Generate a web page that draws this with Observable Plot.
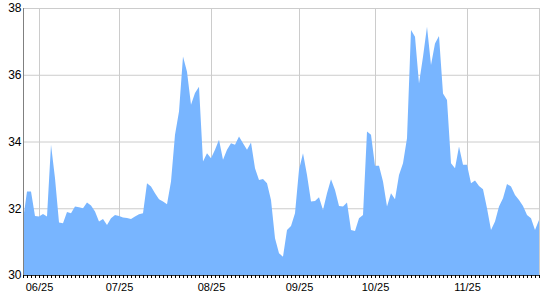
<!DOCTYPE html>
<html>
<head>
<meta charset="utf-8">
<script src="https://cdn.jsdelivr.net/npm/d3@7"></script>
<script src="https://cdn.jsdelivr.net/npm/@observablehq/plot@0.6"></script>
<style>
  html, body { margin: 0; padding: 0; background: #fff; }
  #chart { width: 540px; height: 300px; }
</style>
</head>
<body>
<div id="chart"></div>
<script>
// Daily closing values (one per trading day)
const values = [
  31.65, 32.5, 32.5, 31.77, 31.75, 31.83, 31.75, 33.9, 32.9, 31.57,
  31.55, 31.89, 31.85, 32.05, 32.03, 32.0, 32.17, 32.08, 31.9, 31.6,
  31.68, 31.5, 31.7, 31.8, 31.77, 31.72, 31.71, 31.68, 31.75, 31.82,
  31.85, 32.75, 32.65, 32.45, 32.27, 32.2, 32.12, 32.8, 34.2, 34.9,
  36.55, 36.09, 35.1, 35.45, 35.64, 33.4, 33.65, 33.5, 33.75, 34.05,
  33.45, 33.75, 33.95, 33.9, 34.15, 33.95, 33.75, 33.97, 33.2, 32.85,
  32.88, 32.75, 32.25, 31.1, 30.65, 30.55, 31.35, 31.47, 31.85, 33.15,
  33.65, 33.0, 32.2, 32.22, 32.33, 31.95, 32.45, 32.87, 32.55, 32.07,
  32.05, 32.17, 31.35, 31.32, 31.7, 31.8, 34.3, 34.2, 33.27, 33.27,
  32.8, 32.05, 32.45, 32.27, 33.0, 33.35, 34.1, 37.34, 37.14, 35.74,
  36.54, 37.44, 36.29, 36.94, 37.16, 35.44, 35.24, 33.35, 33.2, 33.85,
  33.3, 33.3, 32.75, 32.83, 32.67, 32.57, 32.0, 31.35, 31.6, 32.05,
  32.3, 32.73, 32.65, 32.4, 32.25, 32.07, 31.8, 31.7, 31.35, 31.65
];
// Labelled x positions (trading-day index) and their labels
const tickIdx = [4, 24, 47, 69, 88, 111];
const tickLabels = ["06/25", "07/25", "08/25", "09/25", "10/25", "11/25"];
const yTicks = [30, 32, 34, 36, 38];
const yGrid = [32, 34, 36, 38];

const data = values.map((v, i) => ({i, v}));
const lastIdx = values.length - 1;
const allIdx = d3.range(values.length);

const chart = Plot.plot({
  width: 540,
  height: 300,
  marginLeft: 23,
  marginRight: 1,
  marginTop: 8,
  marginBottom: 25,
  style: {fontFamily: "'Liberation Sans', Arial, sans-serif", background: "#fff", color: "#000"},
  x: {domain: [0, lastIdx], axis: null},
  y: {domain: [30, 38], axis: null},
  marks: [
    Plot.gridY(yGrid, {stroke: "#cccccc", strokeOpacity: 1}),
    Plot.gridX(tickIdx, {stroke: "#cccccc", strokeOpacity: 1}),
    Plot.ruleX([lastIdx], {stroke: "#cccccc"}),
    Plot.areaY(data, {x: "i", y1: 30, y2: "v", fill: "#78b5ff", curve: "linear"}),
    Plot.ruleX([0], {stroke: "#808080"}),
    Plot.ruleY([30], {stroke: "#333"}),
    Plot.axisX(allIdx, {tickSize: 3, tickFormat: () => "", label: null, stroke: "#000", strokeOpacity: 1}),
    Plot.axisX(tickIdx, {
      tickSize: 0, tickPadding: 8, fontSize: 11, fill: "#000", label: null,
      tickFormat: (d) => tickLabels[tickIdx.indexOf(d)]
    }),
    Plot.axisY(yTicks, {tickSize: 0, tickPadding: 2, fontSize: 12, fill: "#000", label: null, tickFormat: d => String(d)})
  ]
});
document.getElementById("chart").appendChild(chart);
</script>
</body>
</html>
